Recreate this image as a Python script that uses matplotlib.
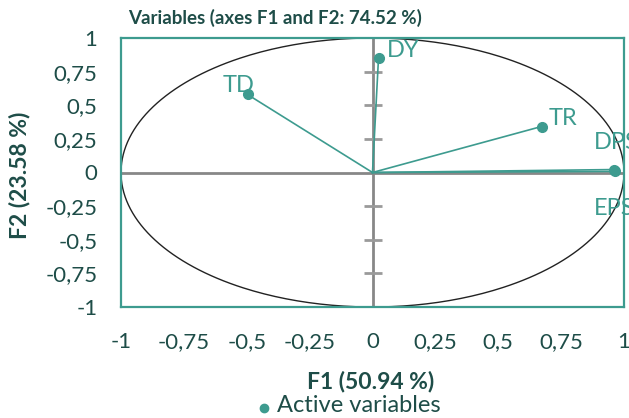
"""Correlation circle for the variables on axes F1 and F2."""

import matplotlib
matplotlib.use("Agg")
import matplotlib.pyplot as plt
import numpy as np

# Variable coordinates
variables = ["DY", "TD", "TR", "DPS", "EPS"]
f1 = [0.024, -0.497, 0.672, 0.962, 0.965]
f2 = [0.855, 0.58, 0.342, 0.022, 0.008]

tick_values = [-1, -0.75, -0.5, -0.25, 0, 0.25, 0.5, 0.75, 1]
tick_labels = ["-1", "-0,75", "-0,5", "-0,25", "0", "0,25", "0,5", "0,75", "1"]
center_ticks = [-0.75, -0.5, -0.25, 0.25, 0.5, 0.75]

TEAL = "#3d9b8f"
DARK = "#1e4d48"
GRAY = "#878787"

plt.rcParams.update({
    "font.family": ["Lato", "DejaVu Sans"],
    "font.size": 13,
})


def draw_circle(ax):
    t = np.linspace(0, 2 * np.pi, 400)
    ax.plot(np.cos(t), np.sin(t), color="#222222", lw=1.0, zorder=2)


def draw_center_lines(ax):
    ax.axhline(0, color=GRAY, lw=2, zorder=1)
    ax.axvline(0, color=GRAY, lw=2, zorder=1)
    for y in center_ticks:
        ax.plot([0], [y], marker="_", markersize=13, markeredgewidth=2,
                color="#9a9a9a", zorder=1)


def draw_variables(ax):
    # label offsets in pixels (left edge, baseline)
    offsets = {"DY": (8, 1), "TD": (-25, 2), "TR": (7, 2),
               "DPS": (-21, 21), "EPS": (-21, -44)}
    for name, x, y in zip(variables, f1, f2):
        ax.plot([0, x], [0, y], color=TEAL, lw=1.2, zorder=3)
        ax.plot(x, y, "o", color=TEAL, markersize=7, zorder=4)
        dx, dy = offsets[name]
        ax.annotate(name, (x, y), xytext=(dx, dy), textcoords="offset pixels",
                    color=TEAL, fontsize=17, annotation_clip=False,
                    ha="left", va="baseline")


def style_plot(fig, ax):
    ax.set_xlim(-1, 1)
    ax.set_ylim(-1, 1)
    ax.set_xticks(tick_values)
    ax.set_xticklabels(tick_labels)
    ax.set_yticks(tick_values)
    ax.set_yticklabels(tick_labels)
    ax.tick_params(length=0, colors=DARK, labelsize=16)
    ax.tick_params(axis="x", pad=18)
    ax.tick_params(axis="y", pad=17)
    for spine in ax.spines.values():
        spine.set_color(TEAL)
        spine.set_linewidth(1.6)
    fig.text(275 / 629, 1 - 18 / 418, "Variables (axes F1 and F2: 74.52 %)",
             ha="center", va="center", fontsize=13.5, fontweight="bold",
             color=DARK)
    fig.text(371 / 629, 1 - 381 / 418, "F1 (50.94 %)", ha="center",
             va="center", fontsize=16.5, fontweight="bold", color=DARK)
    fig.text(20 / 629, 1 - 175 / 418, "F2 (23.58 %)", ha="center",
             va="center", rotation=90, fontsize=16.5, fontweight="bold",
             color=DARK)
    fig.text(277 / 629, 1 - 406 / 418, "Active variables", ha="left",
             va="center", fontsize=17, color=DARK)
    fig.lines.append(plt.Line2D([264 / 629], [1 - 408 / 418], marker="o",
                                markersize=6, color=TEAL,
                                transform=fig.transFigure, figure=fig))


def main():
    fig = plt.figure(figsize=(6.29, 4.18), dpi=100)
    ax = fig.add_axes([121 / 629, 1 - 307 / 418, 503 / 629, 269 / 418])
    draw_circle(ax)
    draw_center_lines(ax)
    draw_variables(ax)
    style_plot(fig, ax)
    fig.savefig("out.png", dpi=100)


if __name__ == "__main__":
    main()
